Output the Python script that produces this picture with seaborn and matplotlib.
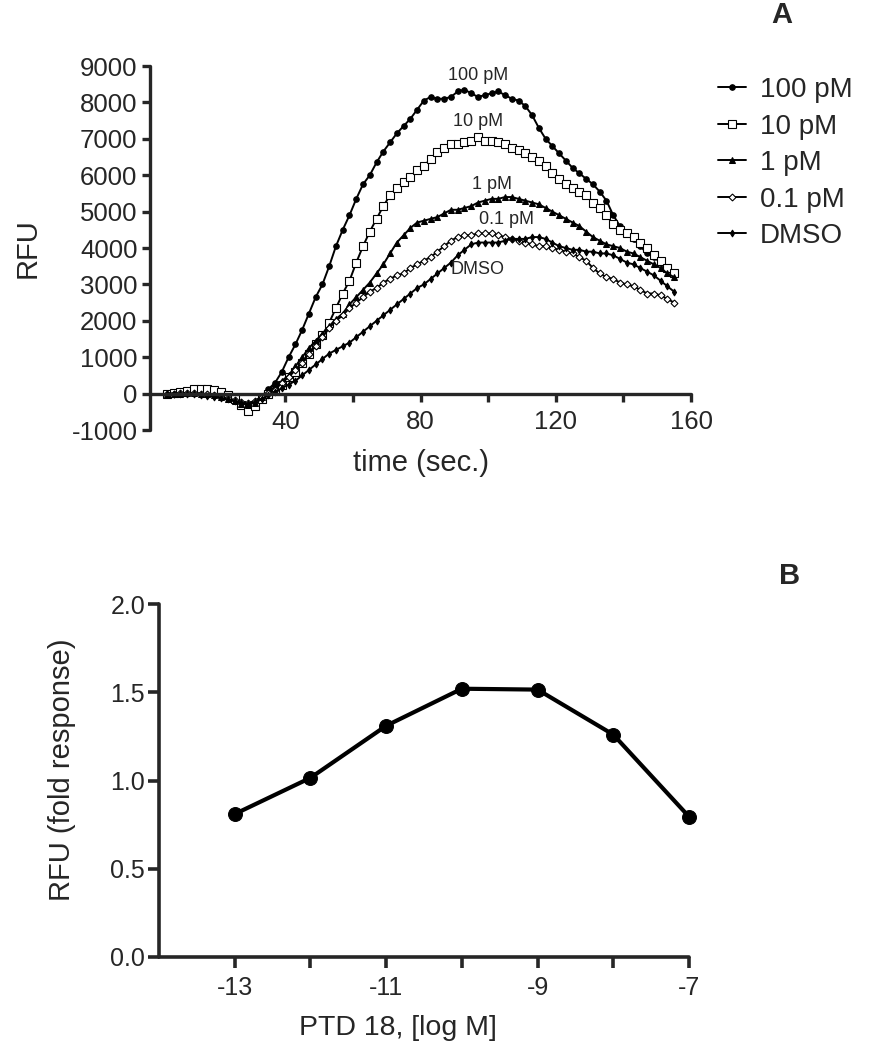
import numpy as np
import pandas as pd
import matplotlib
matplotlib.use("Agg")
import matplotlib.pyplot as plt
import seaborn as sns

# ---- panel A: calcium flux traces (RFU vs time) ----
time_s = [5, 7, 9, 11, 13, 15, 17, 19, 21, 23, 25, 27, 29, 31, 33, 35, 37, 39, 41, 43,
          45, 47, 49, 51, 53, 55, 57, 59, 61, 63, 65, 67, 69, 71, 73, 75, 77, 79, 81, 83,
          85, 87, 89, 91, 93, 95, 97, 99, 101, 103, 105, 107, 109, 111, 113, 115, 117, 119,
          121, 123, 125, 127, 129, 131, 133, 135, 137, 139, 141, 143, 145, 147, 149, 151,
          153, 155]

rfu_100pM = [0, 0, 20, 30, 50, 40, 30, -20, -60, -120, -200, -300, -370, -280, -80, 120,
             300, 600, 1000, 1350, 1750, 2200, 2650, 3000, 3500, 4050, 4500, 4900, 5350,
             5750, 6000, 6350, 6650, 6900, 7150, 7350, 7550, 7800, 8050, 8150, 8100, 8100,
             8150, 8300, 8350, 8250, 8150, 8200, 8250, 8300, 8200, 8100, 8050, 7900, 7650,
             7300, 7000, 6800, 6600, 6400, 6200, 6050, 5900, 5750, 5550, 5300, 4900, 4600,
             4400, 4250, 4050, 3850, 3750, 3600, 3450, 3250]

rfu_10pM = [0, 20, 40, 80, 120, 130, 140, 110, 40, -50, -150, -300, -480, -350, -150, 0,
            100, 250, 450, 600, 850, 1100, 1350, 1600, 1950, 2350, 2750, 3100, 3600, 4050,
            4450, 4800, 5150, 5450, 5650, 5800, 5950, 6150, 6250, 6450, 6650, 6750, 6850,
            6850, 6900, 6950, 7050, 6950, 6950, 6900, 6850, 6750, 6700, 6600, 6500, 6400,
            6250, 6050, 5900, 5750, 5650, 5550, 5450, 5250, 5100, 4900, 4650, 4500, 4400,
            4300, 4150, 4000, 3800, 3650, 3450, 3300]

rfu_1pM = [0, -10, 0, 20, 20, 0, -20, -50, -100, -150, -200, -280, -300, -250, -100, 50,
           200, 350, 500, 750, 1000, 1250, 1450, 1650, 1850, 2050, 2200, 2450, 2650, 2850,
           3050, 3300, 3550, 3850, 4150, 4350, 4550, 4700, 4750, 4800, 4850, 4950, 5050,
           5050, 5100, 5150, 5250, 5300, 5350, 5350, 5400, 5400, 5350, 5300, 5250, 5200,
           5100, 5000, 4900, 4800, 4700, 4600, 4450, 4300, 4200, 4100, 4050, 4000, 3900,
           3850, 3750, 3650, 3550, 3450, 3300, 3200]

rfu_01pM = [0, 0, 10, 20, 10, 0, -20, -40, -80, -130, -180, -230, -260, -200, -80, 30,
            100, 300, 450, 650, 850, 1100, 1300, 1550, 1800, 2000, 2150, 2350, 2500, 2650,
            2800, 2900, 3050, 3150, 3250, 3300, 3450, 3550, 3650, 3750, 3900, 4050, 4200,
            4300, 4350, 4350, 4400, 4400, 4400, 4350, 4300, 4250, 4200, 4150, 4100, 4050,
            4050, 4000, 3950, 3900, 3850, 3750, 3650, 3450, 3300, 3200, 3150, 3050, 3000,
            2950, 2850, 2750, 2750, 2700, 2600, 2500]

rfu_dmso = [0, 0, -10, -20, -20, -30, -60, -80, -120, -160, -200, -250, -280, -230, -150,
            -50, 50, 150, 250, 350, 500, 650, 800, 950, 1100, 1200, 1300, 1400, 1550, 1700,
            1850, 2000, 2150, 2300, 2450, 2600, 2750, 2900, 3000, 3150, 3300, 3450, 3600,
            3800, 3950, 4100, 4150, 4150, 4150, 4150, 4200, 4250, 4250, 4250, 4300, 4300,
            4250, 4150, 4050, 4000, 3950, 3950, 3900, 3900, 3850, 3850, 3800, 3700, 3600,
            3550, 3450, 3350, 3250, 3100, 2950, 2800]

series_names = ["100 pM", "10 pM", "1 pM", "0.1 pM", "DMSO"]
series_values = [rfu_100pM, rfu_10pM, rfu_1pM, rfu_01pM, rfu_dmso]

# curve labels drawn inside the plot (x, y in data units)
curve_label_x = [97, 97, 101, 105.5, 97]
curve_label_y = [8750, 7480, 5750, 4770, 3420]

# ---- panel B: dose response ----
log_conc = [-13, -12, -11, -10, -9, -8, -7]
fold_response = [0.81, 1.015, 1.31, 1.52, 1.515, 1.26, 0.795]

sns.set_style("ticks")
plt.rcParams["font.family"] = ["Liberation Sans", "DejaVu Sans"]

fig = plt.figure(figsize=(8.72, 10.5), dpi=100)
axA = fig.add_axes([150 / 872, 1 - 430 / 1050, (691 - 150) / 872, (430 - 66) / 1050])
axB = fig.add_axes([159 / 872, 1 - 957 / 1050, (689 - 159) / 872, (957 - 604) / 1050])

styles = {
    "100 pM": dict(marker="o", markersize=4, markerfacecolor="black"),
    "10 pM": dict(marker="s", markersize=5.5, markerfacecolor="white", markeredgewidth=0.8),
    "1 pM": dict(marker="^", markersize=4.5, markerfacecolor="black"),
    "0.1 pM": dict(marker="D", markersize=3.5, markerfacecolor="white", markeredgewidth=0.8),
    "DMSO": dict(marker="d", markersize=3.5, markerfacecolor="black"),
}

for name, vals in zip(series_names, series_values):
    df = pd.DataFrame({"time": time_s, "rfu": vals})
    sns.lineplot(data=df, x="time", y="rfu", ax=axA, color="black", linewidth=1.4,
                 markeredgecolor="black", label=name, **styles[name])

for name, lx, ly in zip(series_names, curve_label_x, curve_label_y):
    axA.text(lx, ly, name, ha="center", va="center", fontsize=13)

axA.set_xlim(0, 160)
axA.set_ylim(-1000, 9000)
axA.spines["bottom"].set_position(("data", 0))
axA.spines["top"].set_visible(False)
axA.spines["right"].set_visible(False)
for sp in ("left", "bottom"):
    axA.spines[sp].set_linewidth(2.4)
    axA.spines[sp].set_capstyle("round")
axA.set_xticks([40, 60, 80, 100, 120, 140, 160])
axA.set_xticklabels(["40", "", "80", "", "120", "", "160"])
axA.set_yticks(np.arange(-1000, 9001, 1000))
axA.set_yticklabels(["-1000", "0", "1000", "2000", "3000", "4000", "5000", "6000",
                     "7000", "8000", "9000"])
axA.tick_params(axis="both", direction="out", length=6, width=2.4, labelsize=18.5, pad=3)
axA.tick_params(axis="x", pad=6)
axA.set_xlabel("time (sec.)", fontsize=21)
axA.set_ylabel("RFU", fontsize=21)
axA.xaxis.set_label_coords(0.5, -0.052)
axA.yaxis.set_label_coords(-0.2, 0.5)

axA.legend(loc="upper left", bbox_to_anchor=(718 / 872, 1 - 77 / 1050),
           bbox_transform=fig.transFigure, frameon=False, fontsize=20,
           handlelength=1.0, handletextpad=0.5, labelspacing=0.38, borderaxespad=0,
           borderpad=0)

# panel B
dfB = pd.DataFrame({"logM": log_conc, "fold": fold_response})
sns.lineplot(data=dfB, x="logM", y="fold", ax=axB, color="black", linewidth=3,
             marker="o", markersize=10, markeredgecolor="black", clip_on=False)
axB.set_xlim(-14, -7)
axB.set_ylim(0, 2.0)
axB.spines["top"].set_visible(False)
axB.spines["right"].set_visible(False)
for sp in ("left", "bottom"):
    axB.spines[sp].set_linewidth(2.6)
    axB.spines[sp].set_capstyle("round")
axB.set_xticks([-13, -12, -11, -10, -9, -8, -7])
axB.set_xticklabels(["-13", "", "-11", "", "-9", "", "-7"])
axB.set_yticks([0.0, 0.5, 1.0, 1.5, 2.0])
axB.set_yticklabels(["0.0", "0.5", "1.0", "1.5", "2.0"])
axB.tick_params(axis="both", direction="out", length=8, width=2.6, labelsize=18, pad=2)
axB.tick_params(axis="x", pad=6)
axB.set_xlabel("PTD 18, [log M]", fontsize=20.5)
axB.set_ylabel("RFU (fold response)", fontsize=21)
axB.xaxis.set_label_coords(0.45, -0.165)
axB.yaxis.set_label_coords(-0.157, 0.53)

fig.text(782 / 872, 1 - 15 / 1050, "A", fontsize=21, fontweight="bold", ha="center", va="center")
fig.text(790 / 872, 1 - 576 / 1050, "B", fontsize=21, fontweight="bold", ha="center", va="center")

fig.savefig("out.png", dpi=100)
